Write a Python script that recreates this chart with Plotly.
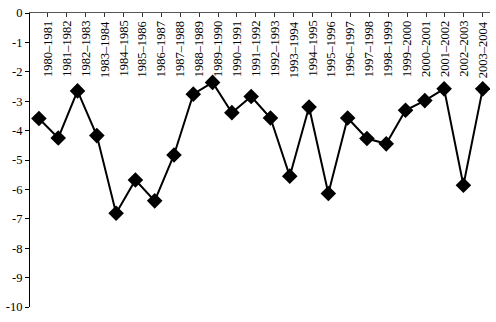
import plotly.graph_objects as go

periods = ["1980–1981", "1981–1982", "1982–1983", "1983–1984", "1984–1985", "1985–1986",
           "1986–1987", "1987–1988", "1988–1989", "1989–1990", "1990–1991", "1991–1992",
           "1992–1993", "1993–1994", "1994–1995", "1995–1996", "1996–1997", "1997–1998",
           "1998–1999", "1999–2000", "2000–2001", "2001–2002", "2002–2003", "2003–2004"]
values = [-3.59, -4.25, -2.65, -4.17, -6.81, -5.68, -6.39, -4.83, -2.76, -2.36, -3.39, -2.84,
          -3.57, -5.55, -3.20, -6.14, -3.57, -4.27, -4.45, -3.31, -2.98, -2.58, -5.86, -2.58]
y_ticks = [0, -1, -2, -3, -4, -5, -6, -7, -8, -9, -10]

idx = list(range(len(periods)))

fig = go.Figure()
# data series on the (hidden) primary x axis
fig.add_trace(go.Scatter(
    x=idx, y=values, mode="lines+markers",
    line=dict(color="black", width=2),
    marker=dict(symbol="diamond", size=12, color="black"),
    showlegend=False, xaxis="x", yaxis="y",
))
# category scale for the top label axis (draws nothing)
fig.add_trace(go.Scatter(
    x=idx, y=[0] * len(idx), mode="none", hoverinfo="skip",
    showlegend=False, xaxis="x2", yaxis="y",
))

for i, p in zip(idx, periods):
    fig.add_annotation(
        x=i, y=0, xref="x2", yref="y",
        text=p, textangle=-90, showarrow=False,
        xanchor="center", yanchor="top", yshift=-6,
        font=dict(size=12.5, family="Liberation Serif", color="black"),
    )

fig.update_layout(
    width=496, height=322,
    margin=dict(l=27, r=6, t=11, b=15),
    paper_bgcolor="white", plot_bgcolor="white",
    font=dict(family="Liberation Serif", color="black"),
    xaxis=dict(
        range=[-0.463, 23.378], visible=False,
        showgrid=False, zeroline=False,
    ),
    xaxis2=dict(
        overlaying="x", anchor="y", side="top",
        range=[-0.946, 23.384],
        tickmode="array", tickvals=idx, showticklabels=False,
        ticks="inside", ticklen=4, tickcolor="#333",
        showline=True, linecolor="#555", linewidth=1,
        showgrid=False, zeroline=False,
    ),
    yaxis=dict(
        range=[-10, 0], tickmode="array", tickvals=y_ticks,
        ticktext=[str(v) for v in y_ticks],
        ticks="outside", ticklen=4, tickcolor="black",
        showline=True, linecolor="black", linewidth=1,
        showgrid=False, zeroline=False,
        tickfont=dict(size=12.5, family="Liberation Serif"),
    ),
)

fig.write_html("out.html")
